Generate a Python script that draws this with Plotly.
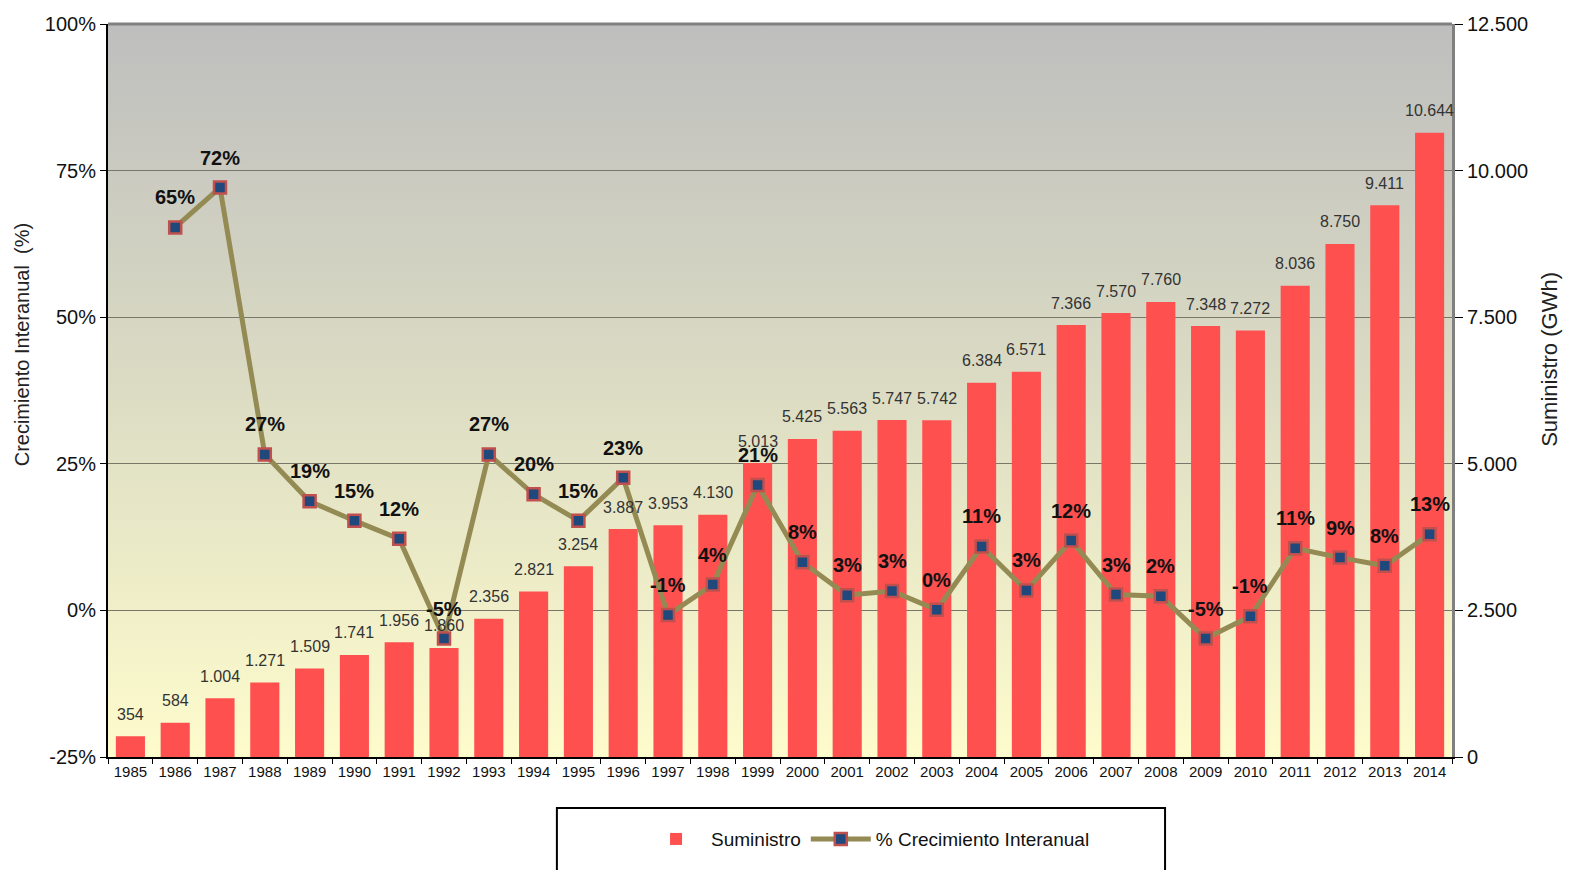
import base64
import plotly.graph_objects as go

years = [str(y) for y in range(1985, 2015)]
suministro = [354, 584, 1004, 1271, 1509, 1741, 1956, 1860, 2356, 2821,
              3254, 3887, 3953, 4130, 5013, 5425, 5563, 5747, 5742, 6384,
              6571, 7366, 7570, 7760, 7348, 7272, 8036, 8750, 9411, 10644]
crecimiento = [None, 65.3, 72.1, 26.6, 18.6, 15.3, 12.2, -4.8, 26.6, 19.8,
               15.3, 22.6, -0.8, 4.4, 21.4, 8.2, 2.6, 3.3, 0.1, 10.9,
               3.4, 11.9, 2.7, 2.4, -4.8, -1.0, 10.6, 9.0, 7.6, 13.0]

gwh_ticks = [0, 2500, 5000, 7500, 10000, 12500]
pct_ticks = [-25, 0, 25, 50, 75, 100]
pct_ticktext = [f"{t}%" for t in pct_ticks]

NARROW = "Liberation Sans Narrow, Arial Narrow, Liberation Sans, Arial, sans-serif"
SANS = "Liberation Sans, Arial, sans-serif"

svg = ('<svg xmlns="http://www.w3.org/2000/svg" width="100" height="100" preserveAspectRatio="none">'
       '<defs><linearGradient id="g" x1="0" y1="0" x2="0" y2="1">'
       '<stop offset="0" stop-color="#bebebe"/><stop offset="0.5" stop-color="#dcdcc4"/>'
       '<stop offset="1" stop-color="#fefccc"/></linearGradient></defs>'
       '<rect width="100" height="100" fill="url(#g)"/></svg>')
bg_src = "data:image/svg+xml;base64," + base64.b64encode(svg.encode()).decode()

fig = go.Figure()
fig.add_trace(go.Bar(
    x=years, y=suministro, name="Suministro", yaxis="y",
    marker=dict(color="#ff5050", line=dict(width=0)),
))
fig.add_trace(go.Scatter(
    x=years, y=crecimiento, name="% Crecimiento Interanual", yaxis="y2",
    mode="lines+markers",
    line=dict(color="#948a54", width=5),
    marker=dict(symbol="square", size=12, color="#1f497d",
                line=dict(color="#c0504d", width=2.5)),
))

annotations = []
for i, v in enumerate(suministro):
    annotations.append(dict(
        x=i, y=v, xref="x", yref="y", text=f"{v:,}".replace(",", "."),
        showarrow=False, yshift=22, font=dict(family=SANS, size=16, color="#333333")))
for i, p in enumerate(crecimiento):
    if p is None:
        continue
    annotations.append(dict(
        x=i, y=p, xref="x", yref="y2", text=f"<b>{round(p):d}%</b>",
        showarrow=False, yshift=30, font=dict(family=NARROW, size=20, color="#111111")))

annotations.append(dict(
    x=-0.064, y=0.563, xref="paper", yref="paper", text="Crecimiento Interanual  (%)",
    textangle=-90, showarrow=False, xanchor="center", yanchor="middle",
    font=dict(family=SANS, size=20, color="#222222")))
annotations.append(dict(
    x=1.073, y=0.542, xref="paper", yref="paper", text="Suministro (GWh)",
    textangle=-90, showarrow=False, xanchor="center", yanchor="middle",
    font=dict(family=SANS, size=22, color="#222222")))

# page body adds an 8px offset; margins compensate so the plot area sits at 108..1452 x 24..757
fig.update_layout(
    width=1574, height=870,
    margin=dict(l=100, r=130, t=16, b=121, autoexpand=False),
    paper_bgcolor="white",
    plot_bgcolor="rgba(0,0,0,0)",
    separators=",.",
    bargap=0.35,
    showlegend=True,
    legend=dict(orientation="h", x=0.5655, xanchor="center", y=-0.112, yanchor="middle",
                font=dict(family=SANS, size=19, color="#111111"),
                itemwidth=60, bgcolor="rgba(0,0,0,0)", traceorder="normal"),
    images=[dict(source=bg_src, xref="paper", yref="paper", x=0, y=1,
                 sizex=1, sizey=1, xanchor="left", yanchor="top",
                 sizing="stretch", layer="below")],
    xaxis=dict(type="category", categoryorder="array", categoryarray=years,
               range=[-0.5, len(years) - 0.5], autorange=False, automargin=False,
               showline=True, linecolor="black", linewidth=2,
               ticks="outside", tickson="boundaries", ticklen=5, tickcolor="black",
               tickangle=0,
               tickfont=dict(family=NARROW, size=15, color="#111111"),
               showgrid=False, fixedrange=True),
    yaxis=dict(side="right", range=[0, 12500], autorange=False, automargin=False,
               tickvals=gwh_ticks,
               tickformat=",d", showline=True, linecolor="#808080", linewidth=3,
               ticks="outside", ticklen=8, tickcolor="black",
               tickfont=dict(family=SANS, size=20, color="#111111"),
               showgrid=True, gridcolor="#77776a", gridwidth=1, zeroline=False),
    yaxis2=dict(side="left", overlaying="y", range=[-25, 100], autorange=False,
                automargin=False,
                tickmode="array", tickvals=pct_ticks, ticktext=pct_ticktext,
                showline=True, linecolor="black", linewidth=2,
                ticks="outside", ticklen=6, tickcolor="black",
                tickfont=dict(family=SANS, size=20, color="#111111"),
                showgrid=False, zeroline=False),
    annotations=annotations,
    shapes=[
        dict(type="line", xref="paper", yref="paper", x0=0, x1=1, y0=1, y1=1,
             line=dict(color="#808080", width=3)),
        dict(type="rect", xref="paper", yref="paper", x0=0.334, x1=0.7865,
             y0=-0.0696, y1=-0.2, line=dict(color="black", width=2),
             fillcolor="rgba(0,0,0,0)"),
    ],
)

fig.write_html("out.html")
